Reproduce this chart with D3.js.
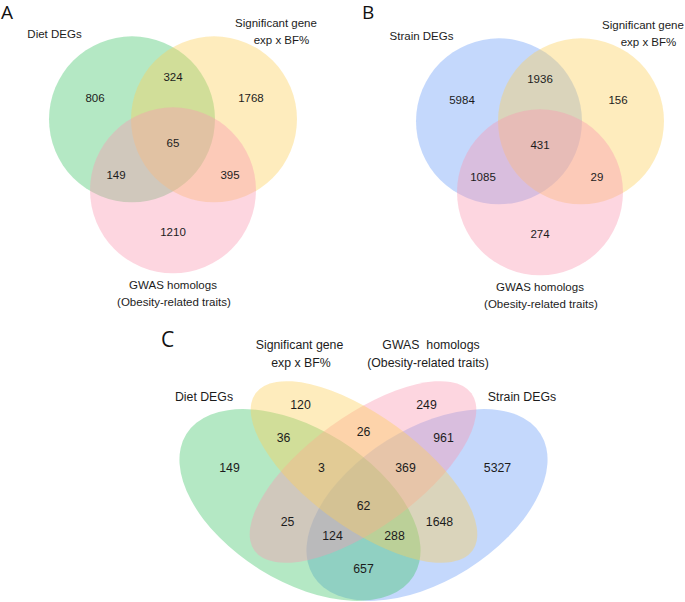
<!DOCTYPE html>
<html><head><meta charset="utf-8">
<script src="https://cdn.jsdelivr.net/npm/d3@7"></script>
<style>body{margin:0;background:#fff}svg{display:block}</style>
</head><body>
<svg id="chart" width="685" height="602"></svg>
<script>
// ---------- DATA ----------
const setsA = ["Diet DEGs", "Significant gene exp x BF%", "GWAS homologs (Obesity-related traits)"];
const regionsA = ["Diet", "Diet&Sig", "Sig", "Diet&Sig&GWAS", "Diet&GWAS", "Sig&GWAS", "GWAS"];
const countsA = [806, 324, 1768, 65, 149, 395, 1210];

const setsB = ["Strain DEGs", "Significant gene exp x BF%", "GWAS homologs (Obesity-related traits)"];
const regionsB = ["Strain", "Strain&Sig", "Sig", "Strain&Sig&GWAS", "Strain&GWAS", "Sig&GWAS", "GWAS"];
const countsB = [5984, 1936, 156, 431, 1085, 29, 274];

const setsC = ["Diet DEGs", "Significant gene exp x BF%", "GWAS homologs (Obesity-related traits)", "Strain DEGs"];
const regionsC = ["Sig", "GWAS", "Diet&Sig", "Sig&GWAS", "GWAS&Strain", "Diet", "Diet&Sig&GWAS",
  "Sig&GWAS&Strain", "Strain", "All", "Diet&GWAS", "Sig&Strain", "Diet&GWAS&Strain", "Diet&Sig&Strain", "Diet&Strain"];
const countsC = [120, 249, 36, 26, 961, 149, 3, 369, 5327, 62, 25, 1648, 124, 288, 657];

const panelLetters = ["A", "B", "C"];

// ---------- LAYOUT (unit coordinates, not data) ----------
const lay3 = {
  circles: [[-0.5, -0.289], [0.5, -0.289], [0, 0.577]],
  r: 1.012,
  regions: [[-0.951, -0.549], [0, -0.805], [0.951, -0.549], [0, 0], [-0.695, 0.39], [0.695, 0.39], [0, 1.085]],
  labels: [
    [[-1.445, -1.28]],
    [[1.256, -1.415], [1.323, -1.207]],
    [[0, 1.78], [0.012, 1.988]]
  ]
};
const lay4 = {
  ellipses: [ // cx, cy, a, b, rotation
    [-0.635, 0.33, 1.34, 0.76, 32],
    [0.005, 0, 1.34, 0.56, 36],
    [-0.005, 0, 1.34, 0.56, -36],
    [0.635, 0.33, 1.34, 0.76, -32]
  ],
  regions: [[-0.63, -0.67], [0.63, -0.67], [-0.80, -0.34], [0, -0.40], [0.80, -0.34], [-1.34, -0.04],
    [-0.42, -0.04], [0.42, -0.04], [1.34, -0.04], [0, 0.34], [-0.76, 0.50], [0.76, 0.50],
    [-0.31, 0.64], [0.31, 0.64], [0, 0.97]],
  labels: [
    [[-1.595, -0.71]],
    [[-0.64, -1.23], [-0.625, -1.05]],
    [[0.675, -1.23], [0.645, -1.05]],
    [[1.585, -0.71]]
  ]
};
const letterPos = [[1, 19, 19], [362, 19, 19], [161, 347, 21]];
const labelLines = {
  "Diet DEGs": ["Diet DEGs"],
  "Strain DEGs": ["Strain DEGs"],
  "Significant gene exp x BF%": ["Significant gene", "exp x BF%"],
  "GWAS homologs (Obesity-related traits)": ["GWAS homologs", "(Obesity-related traits)"]
};
const colorOf = {
  "Diet DEGs": "#43c56b",
  "Strain DEGs": "#6b9df7",
  "Significant gene exp x BF%": "#fccf5a",
  "GWAS homologs (Obesity-related traits)": "#fa98b1"
};
const FONT = "'Liberation Sans', Arial, Helvetica, sans-serif";
const TXT = "#1c1c1c";

const svg = d3.select("#chart");

function venn3(ox, oy, unit, sets, counts, fs) {
  const x = d3.scaleLinear().domain([0, 1]).range([ox, ox + unit]);
  const y = d3.scaleLinear().domain([0, 1]).range([oy, oy + unit]);
  const g = svg.append("g");
  const order = [0, 1, 2];
  g.selectAll("circle").data(order).join("circle")
    .attr("cx", i => x(lay3.circles[i][0]))
    .attr("cy", i => y(lay3.circles[i][1]))
    .attr("r", x(lay3.r) - x(0))
    .attr("fill", i => colorOf[sets[i]])
    .attr("fill-opacity", 0.4);
  g.selectAll("text.num").data(counts).join("text").attr("class", "num")
    .attr("x", (d, i) => x(lay3.regions[i][0]))
    .attr("y", (d, i) => y(lay3.regions[i][1]))
    .attr("dy", "0.35em")
    .attr("text-anchor", "middle")
    .attr("font-family", FONT).attr("font-size", fs).attr("fill", TXT)
    .text(d => d);
  sets.forEach((s, i) => {
    labelLines[s].forEach((line, j) => {
      g.append("text")
        .attr("x", x(lay3.labels[i][j][0]))
        .attr("y", y(lay3.labels[i][j][1]))
        .attr("text-anchor", "middle")
        .attr("font-family", FONT).attr("font-size", fs).attr("fill", TXT)
        .text(line);
    });
  });
}

function venn4(ox, oy, unit, sets, counts, fs) {
  const x = d3.scaleLinear().domain([0, 1]).range([ox, ox + unit]);
  const y = d3.scaleLinear().domain([0, 1]).range([oy, oy + unit]);
  const g = svg.append("g");
  const order = [3, 0, 2, 1];
  g.selectAll("ellipse").data(order).join("ellipse")
    .attr("cx", i => x(lay4.ellipses[i][0]))
    .attr("cy", i => y(lay4.ellipses[i][1]))
    .attr("rx", i => x(lay4.ellipses[i][2]) - x(0))
    .attr("ry", i => y(lay4.ellipses[i][3]) - y(0))
    .attr("transform", i => `rotate(${lay4.ellipses[i][4]},${x(lay4.ellipses[i][0])},${y(lay4.ellipses[i][1])})`)
    .attr("fill", i => colorOf[sets[i]])
    .attr("fill-opacity", 0.4);
  g.selectAll("text.num").data(counts).join("text").attr("class", "num")
    .attr("x", (d, i) => x(lay4.regions[i][0]))
    .attr("y", (d, i) => y(lay4.regions[i][1]))
    .attr("dy", "0.35em")
    .attr("text-anchor", "middle")
    .attr("font-family", FONT).attr("font-size", fs).attr("fill", TXT)
    .text(d => d);
  sets.forEach((s, i) => {
    let lines = labelLines[s];
    if (i === 2) lines = ["GWAS\u00a0 homologs", lines[1]];
    lines.forEach((line, j) => {
      g.append("text")
        .attr("x", x(lay4.labels[i][j][0]))
        .attr("y", y(lay4.labels[i][j][1]))
        .attr("text-anchor", "middle")
        .attr("font-family", FONT).attr("font-size", fs).attr("fill", TXT)
        .text(line);
    });
  });
}

venn3(173, 143, 82, setsA, countsA, 11.5);
venn3(540, 145, 82, setsB, countsB, 11.5);
venn4(363.5, 472, 100, setsC, countsC, 12.3);

// panel letters
svg.selectAll("text.letter").data(panelLetters).join("text").attr("class", "letter")
  .attr("x", (d, i) => letterPos[i][0]).attr("y", (d, i) => letterPos[i][1])
  .attr("font-family", "'Open Sans', 'DejaVu Sans', sans-serif")
  .attr("font-size", (d, i) => letterPos[i][2]).attr("fill", "#111")
  .text(d => d);
</script>
</body></html>
